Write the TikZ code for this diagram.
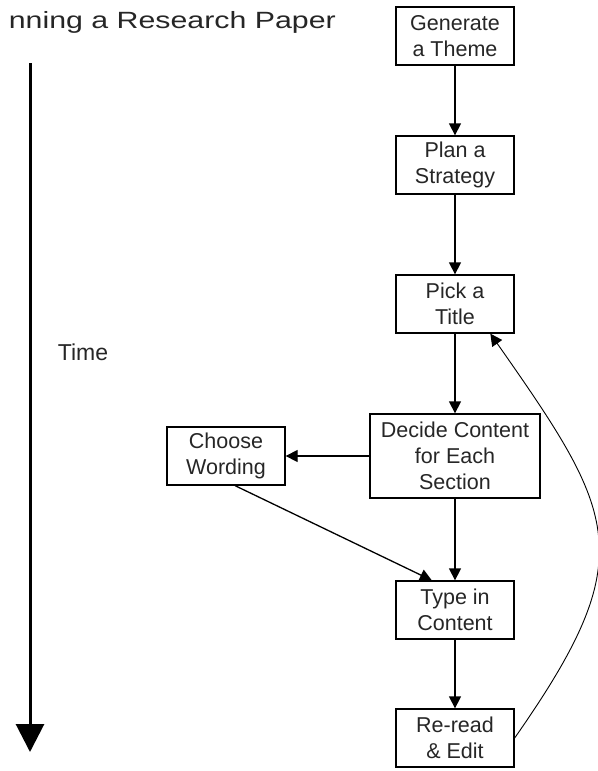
\documentclass[tikz,border=0pt]{standalone}
\usepackage{fontspec}
\setmainfont{Liberation Sans}
\newfontfamily\headfont[FakeStretch=1.29]{Liberation Sans}
\usetikzlibrary{arrows.meta}

\begin{document}
\begin{tikzpicture}[x=1pt,y=-1pt]

\tikzset{step box/.style = {shape=rectangle,draw,line width=1.3pt,align=center,
  minimum width=118pt,minimum height=58pt,font=\fontsize{21.5}{26}\selectfont,text=black!85}}
\tikzset{edge/.style = {line width=1.3pt,-{Triangle[width=12pt,length=12pt]}}}
\tikzset{loop edge/.style = {line width=0.9pt,-{Triangle[width=12pt,length=12pt]}}}
\useasboundingbox (0,0) rectangle (597,771);
%title and time line
\node[anchor=base east,inner sep=0pt,font=\headfont\fontsize{23.5}{28}\selectfont,text=black!85] (title) at (336,28) {nning a Research Paper};
\node[font=\fontsize{23}{27}\selectfont,text=black!85] (time) at (83,352) {Time};
\coordinate (t0) at (30,63);
\coordinate (t1) at (30,752);
%boxes
\node[step box] (theme) at (455,36) {Generate\\a Theme};
\node[step box] (plan) at (455,165) {Plan a\\Strategy};
\node[step box] (pick) at (455,304) {Pick a\\Title};
\node[step box,minimum width=170pt,minimum height=84pt] (decide) at (455,456) {Decide Content\\for Each\\Section};
\node[step box] (choose) at (226,456) {Choose\\Wording};
\node[step box] (type) at (455,610) {Type in\\Content};
\node[step box] (reread) at (455,738) {Re-read\\\& Edit};
%edges
\draw[line width=3pt,-{Triangle[width=28pt,length=28pt]}] (t0) -- (t1);
\draw[edge] (theme) -- (plan);
\draw[edge] (plan) -- (pick);
\draw[edge] (pick) -- (decide);
\draw[edge] (decide) -- (choose);
\draw[edge] (decide) -- (type);
\draw[edge] (choose.-73) -- (type.128);
\draw[edge] (type) -- (reread);
\draw[loop edge] (reread.east) to[out=55,in=-55,looseness=1.4] (pick.-40);
\end{tikzpicture}
\end{document}
